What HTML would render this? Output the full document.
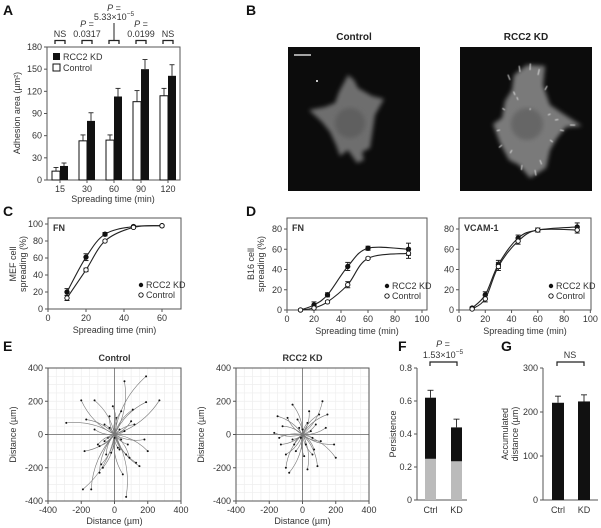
<!DOCTYPE html>
<html><head><meta charset="utf-8"><style>
body{margin:0;background:#fff}
svg{display:block;font-family:"Liberation Sans",sans-serif}
.t{font-size:9px;fill:#333}
.L{font-size:14px;font-weight:bold;fill:#111}
.ti{font-size:10px;font-weight:bold;fill:#222}
</style></head><body>
<svg id="fig" width="601" height="528" viewBox="0 0 601 528">
<defs><filter id="bl"><feGaussianBlur stdDeviation="2"/></filter><filter id="bl1"><feGaussianBlur stdDeviation="0.6"/></filter></defs>
<g id="g"></g>
<text class="L" x="3" y="15">A</text>
<text class="L" x="246" y="15">B</text>
<text class="L" x="3" y="216">C</text>
<text class="L" x="246" y="216">D</text>
<text class="L" x="3" y="351">E</text>
<text class="L" x="398" y="351">F</text>
<text class="L" x="501" y="351">G</text>
<g>
<rect x="288" y="47" width="132" height="144" fill="#0c0c0c"/>
<path d="M339 92 L348 75 L354 80 L358 88 L372 96 L384 99 L375 115 L372 135 L370 148 L362 152 L364 160 L357 163 L348 150 L340 156 L336 145 L330 132 L322 122 L309 110 L325 107 L335 103Z" fill="#6e6e6e" filter="url(#bl)"/>
<circle cx="350" cy="123" r="15" fill="#5e5e5e" filter="url(#bl)"/>
<line x1="294" y1="55" x2="311" y2="55" stroke="#fff" stroke-width="1.2"/>
<circle cx="317" cy="81" r="1" fill="#fff"/>
</g>
<text class="ti" x="354" y="40" text-anchor="middle">Control</text>
<g>
<rect x="460" y="47" width="132" height="144" fill="#0c0c0c"/>
<path d="M514 75 L527 65 L545 66 L543 85 L550 105 L565 115 L582 126 L566 127 L557 138 L550 150 L546 168 L530 178 L519 165 L509 160 L500 143 L493 124 L502 118 L505 101 L512 90Z" fill="#7a7a7a" filter="url(#bl)"/>
<circle cx="527" cy="124" r="16" fill="#666" filter="url(#bl)"/>
<g id="streaks" stroke="#ddd" stroke-width="1" filter="url(#bl1)"></g>
</g>
<text class="ti" x="526" y="40" text-anchor="middle">RCC2 KD</text>
</svg>
<script>
// ---------- DATA ----------
const aTimes=["15","30","60","90","120"];
const aCtrl=[12,53,54,106,114];
const aCtrlErr=[5,8,7,15,10];
const aKD=[19,80,113,150,141];
const aKDErr=[4,11,11,13,15];
const aTicks=[0,30,60,90,120,150,180];
const aPTop=["","P =","","P =",""];
const aPBot=["NS","0.0317","","0.0199","NS"];
const cTime=[10,20,30,45,60];
const cKD=[20,61,88,97,98];
const cKDErr=[4,4,2,1,1];
const cCtrl=[13,46,80,96,98];
const cCtrlErr=[3,2,1,1,1];
const dTime=[10,20,30,45,60,90];
const dFnKD=[0,5,15,43,61,60];
const dFnKDErr=[1,3,2,4,2,6];
const dFnCtrl=[0,2,8,25,51,56];
const dFnCtrlErr=[1,2,1,3,1,5];
const dVcKD=[2,15,45,71,79,82];
const dVcKDErr=[1,3,4,3,2,4];
const dVcCtrl=[1,11,43,68,79,79];
const dVcCtrlErr=[1,3,4,3,2,3];
const eCtrlX=[-290,-200,-120,-190,-140,190,270,190,60,70,150,200,180,-180,-170,-80,-90,-70,50,110,100,-30,-50,30,-60,40,80,-120,130,-20,20,-40,60,10,-100,90,-10,40,-60,120,30,-30,70,-90,0];
const eCtrlY=[70,205,205,-330,-330,350,205,195,320,-375,-190,-100,-30,-100,90,-180,-230,-200,-240,150,80,110,-120,-90,60,140,-60,30,-170,-110,-80,-20,20,100,-60,-140,170,-30,-40,60,30,40,-120,-70,-20];
const eKDX=[-150,-130,-100,200,190,150,120,-80,-60,30,40,-170,-120,90,60,-40,80,-60,-30,20,110,-100,140,-20,50,-90,10,70,-50,30,-10,100,-140,60,0];
const eKDY=[110,-60,-200,-140,-60,120,200,-230,180,-210,140,10,50,-190,-120,-100,60,-30,90,-60,-40,-120,40,40,20,100,-130,-90,-60,70,-20,120,-20,-20,30];
const fCats=["Ctrl","KD"];
const fTotal=[0.62,0.44];
const fErr=[0.045,0.05];
const fGray=[0.25,0.235];
const fTicks=[0,0.2,0.4,0.6,0.8];
const gVals=[221,224];
const gErr=[15,15];
const gTicks=[0,100,200,300];

// ---------- HELPERS ----------
const NS="http://www.w3.org/2000/svg";
const root=document.getElementById('g');
function mk(tag,attrs,parent){const e=document.createElementNS(NS,tag);for(const k in attrs)e.setAttribute(k,attrs[k]);(parent||root).appendChild(e);return e;}
function txt(x,y,s,anchor,extra,parent){const e=mk('text',Object.assign({x:x,y:y,'text-anchor':anchor||'middle','class':'t'},extra||{}),parent);e.textContent=s;return e;}
function lin(d0,d1,r0,r1){return v=>r0+(v-d0)/(d1-d0)*(r1-r0);}
function frame(x0,y0,x1,y1,name){const r=mk('rect',{x:x0,y:y0,width:x1-x0,height:y1-y0,fill:'none',stroke:'#555','stroke-width':1});}
function yTicks(ticks,ys,x0,fmt){ticks.forEach(t=>{const y=ys(t);mk('line',{x1:x0-3,y1:y,x2:x0,y2:y,stroke:'#555'});const l=txt(x0-5,y+3,fmt?fmt(t):String(t),'end');});}
function xTicks(ticks,xs,y0){ticks.forEach(t=>{const x=xs(t);mk('line',{x1:x,y1:y0,x2:x,y2:y0+3,stroke:'#555'});const l=txt(x,y0+12,String(t));});}
function err(x,y0,y1,w){mk('line',{x1:x,y1:y0,x2:x,y2:y1,stroke:'#222','stroke-width':0.9});mk('line',{x1:x-w,y1:y1,x2:x+w,y2:y1,stroke:'#222','stroke-width':0.9});}
function smooth(pts){let d=`M${pts[0][0]},${pts[0][1]}`;for(let i=0;i<pts.length-1;i++){const p0=pts[Math.max(0,i-1)],p1=pts[i],p2=pts[i+1],p3=pts[Math.min(pts.length-1,i+2)];const c1=[p1[0]+(p2[0]-p0[0])/6,p1[1]+(p2[1]-p0[1])/6],c2=[p2[0]-(p3[0]-p1[0])/6,p2[1]-(p3[1]-p1[1])/6];d+=` C${c1[0]},${c1[1]} ${c2[0]},${c2[1]} ${p2[0]},${p2[1]}`;}return d;}
function yLabel(x,y,lines,name){const g=mk('g',{transform:`translate(${x},${y}) rotate(-90)`});lines.forEach((s,i)=>{txt(0,i*10,s,'middle',{},g);});}
function xLabel(x,y,s,name){const t=txt(x,y,s);}

// ---------- PANEL A ----------
(function(){
const x0=47,x1=180,y0=47,y1=180;const ys=lin(0,180,y1,y0);
frame(x0,y0,x1,y1,'panel-a-plot-frame');
yTicks(aTicks,ys,x0);
aTimes.forEach((t,i)=>{const cx=60+i*27;
 let y=ys(aCtrl[i]);const b1=mk('rect',{x:cx-8,y:y,width:8,height:y1-y,fill:'#fff',stroke:'#111','stroke-width':1});
 
 err(cx-4,y,ys(aCtrl[i]+aCtrlErr[i]),2.5);
 y=ys(aKD[i]);const b2=mk('rect',{x:cx,y:y,width:8,height:y1-y,fill:'#111'});
 
 err(cx+4,y,ys(aKD[i]+aKDErr[i]),2.5);
 mk('line',{x1:cx,y1:y1,x2:cx,y2:y1+3,stroke:'#555'});
 const l=txt(cx,y1+12,t);
 mk('path',{d:`M${cx-5},${44} V40.5 H${cx+5} V44`,fill:'none',stroke:'#222','stroke-width':1.3});
 if(aPBot[i]){const p=txt(cx,37,aPBot[i]);}
 if(aPTop[i]){const p=txt(cx,27,'');p.innerHTML='<tspan font-style="italic">P</tspan> =';}
});
const cx=60+2*27;mk('line',{x1:cx,y1:40,x2:cx,y2:23,stroke:'#222'});
let p=txt(cx,11,'');p.innerHTML='<tspan font-style="italic">P</tspan> =';
p=txt(cx,20,'');p.innerHTML='5.33×10<tspan dy="-4" font-size="6.5">−5</tspan>';
mk('rect',{x:53,y:53,width:7,height:7,fill:'#111'});txt(63,60,'RCC2 KD','start');
mk('rect',{x:53,y:64,width:7,height:7,fill:'#fff',stroke:'#111'});txt(63,71,'Control','start');
yLabel(20,113,['Adhesion area (µm²)'],'y-axis-title-a');
xLabel(113,202,'Spreading time (min)','x-axis-title-a');
})();

// ---------- LINE PANELS ----------
function linePanel(o){
 const xs=lin(0,o.xmax,o.x0,o.x1),ys=lin(0,o.ymaxAxis,o.y1,o.ytop);
 frame(o.x0,o.y0,o.x1,o.y1,o.name+'-plot-frame');
 yTicks(o.yt,ys,o.x0);xTicks(o.xt,xs,o.y1);
 [[o.kd,o.kdE,'#111','rcc2kd'],[o.ct,o.ctE,'#fff','control']].forEach(([v,e,f,n])=>{
  const pts=o.t.map((t,i)=>[xs(t),ys(v[i])]);
  const c=mk('path',{d:smooth(pts),fill:'none',stroke:'#222','stroke-width':1.1});
  o.t.forEach((t,i)=>{const x=xs(t);mk('line',{x1:x,y1:ys(v[i]-e[i]),x2:x,y2:ys(v[i]+e[i]),stroke:'#222'});
   mk('line',{x1:x-2.5,y1:ys(v[i]-e[i]),x2:x+2.5,y2:ys(v[i]-e[i]),stroke:'#222'});mk('line',{x1:x-2.5,y1:ys(v[i]+e[i]),x2:x+2.5,y2:ys(v[i]+e[i]),stroke:'#222'});
   const p=mk('circle',{cx:x,cy:ys(v[i]),r:2.2,fill:f,stroke:'#111','stroke-width':0.9});});
 });
 const lx=o.x1-40,ly=o.y1-24;
 mk('circle',{cx:lx,cy:ly,r:2.2,fill:'#111'});txt(lx+5,ly+3,'RCC2 KD','start');
 mk('circle',{cx:lx,cy:ly+10,r:2.2,fill:'#fff',stroke:'#111','stroke-width':0.9});txt(lx+5,ly+13,'Control','start');
 const tl=txt(o.x0+5,o.y0+13,o.title,'start',{'font-weight':'bold','font-size':'10'});
 xLabel((o.x0+o.x1)/2,o.y1+24,'Spreading time (min)','x-axis-title-'+o.name);
}
linePanel({name:'c',x0:48,x1:181,y0:218,y1:309,xmax:70,ytop:224,ymaxAxis:100,yt:[0,20,40,60,80,100],xt:[0,20,40,60],t:cTime,kd:cKD,kdE:cKDErr,ct:cCtrl,ctE:cCtrlErr,title:'FN'});
yLabel(16,264,['MEF cell','spreading (%)'],'y-axis-title-c');
linePanel({name:'d-fn',x0:287,x1:427,y0:218,y1:310,xmax:103.7,ytop:229,ymaxAxis:80,yt:[0,20,40,60,80],xt:[0,20,40,60,80,100],t:dTime,kd:dFnKD,kdE:dFnKDErr,ct:dFnCtrl,ctE:dFnCtrlErr,title:'FN'});
yLabel(254,264,['B16 cell','spreading (%)'],'y-axis-title-d');
linePanel({name:'d-vcam',x0:459,x1:591,y0:218,y1:310,xmax:100.5,ytop:229,ymaxAxis:80,yt:[0,20,40,60,80],xt:[0,20,40,60,80,100],t:dTime,kd:dVcKD,kdE:dVcKDErr,ct:dVcCtrl,ctE:dVcCtrlErr,title:'VCAM-1'});

// ---------- PANEL E ----------
function track(o){
 const xs=lin(-400,400,o.x0,o.x1),ys=lin(-400,400,o.y1,o.y0);
 for(let v=-400;v<=400;v+=50){mk('line',{x1:xs(v),y1:o.y0,x2:xs(v),y2:o.y1,stroke:'#eee','stroke-width':0.7});mk('line',{x1:o.x0,y1:ys(v),x2:o.x1,y2:ys(v),stroke:'#eee','stroke-width':0.7});}
 mk('line',{x1:xs(0),y1:o.y0,x2:xs(0),y2:o.y1,stroke:'#888'});mk('line',{x1:o.x0,y1:ys(0),x2:o.x1,y2:ys(0),stroke:'#888'});
 o.ex.forEach((ex,i)=>{const ey=o.ey[i];const mx=ex/2,my=ey/2,s=(i%2?1:-1)*0.18;
  const cxv=mx-ey*s,cyv=my+ex*s;
  const p=mk('path',{d:`M${xs(0)},${ys(0)} Q${xs(cxv)},${ys(cyv)} ${xs(ex)},${ys(ey)}`,fill:'none',stroke:'#777','stroke-width':0.6});
  
  mk('circle',{cx:xs(ex),cy:ys(ey),r:1,fill:'#111'});});
 frame(o.x0,o.y0,o.x1,o.y1,o.name+'-plot-frame');
 yTicks([-400,-200,0,200,400],ys,o.x0);xTicks([-400,-200,0,200,400],xs,o.y1);
 const t=txt((o.x0+o.x1)/2,o.y0-7,o.title,'middle',{'font-weight':'bold','font-size':'10'});
 xLabel((o.x0+o.x1)/2,o.y1+23,'Distance (µm)','x-axis-title-'+o.name);
 yLabel(o.x0-32,(o.y0+o.y1)/2,['Distance (µm)'],'y-axis-title-'+o.name);
}
track({name:'e-control',x0:48,x1:181,y0:368,y1:501,ex:eCtrlX,ey:eCtrlY,title:'Control'});
track({name:'e-rcc2kd',x0:236,x1:369,y0:368,y1:501,ex:eKDX,ey:eKDY,title:'RCC2 KD'});

// ---------- PANEL F ----------
(function(){
 const x0=417,x1=467,y0=368,y1=500,ys=lin(0,0.8,y1,y0);
 mk('line',{x1:x0,y1:y0,x2:x0,y2:y1,stroke:'#555'});mk('line',{x1:x0,y1:y1,x2:x1,y2:y1,stroke:'#555'});
 yTicks(fTicks,ys,x0,v=>v===0?'0':String(v));
 fCats.forEach((c,i)=>{const bx=425+i*26;
  const b=mk('rect',{x:bx,y:ys(fTotal[i]),width:11,height:y1-ys(fTotal[i]),fill:'#111'});
  const g=mk('rect',{x:bx,y:ys(fGray[i]),width:11,height:y1-ys(fGray[i]),fill:'#bbb'});
  err(bx+5.5,ys(fTotal[i]),ys(fTotal[i]+fErr[i]),3);
  const l=txt(bx+5.5,y1+13,c);});
 mk('path',{d:'M430,366 V362 H457 V366',fill:'none',stroke:'#222','stroke-width':1.2});
 let p=txt(443,347,'');p.innerHTML='<tspan font-style="italic">P</tspan> =';
 p=txt(443,358,'');p.innerHTML='1.53×10<tspan dy="-4" font-size="6.5">−5</tspan>';
 yLabel(396,434,['Persistence'],'y-axis-title-f');
})();

// ---------- PANEL G ----------
(function(){
 const x0=543,x1=598,y0=368,y1=500,ys=lin(0,300,y1,y0);
 mk('line',{x1:x0,y1:y0,x2:x0,y2:y1,stroke:'#555'});mk('line',{x1:x0,y1:y1,x2:x1,y2:y1,stroke:'#555'});
 yTicks(gTicks,ys,x0);
 fCats.forEach((c,i)=>{const bx=552+i*26;
  const b=mk('rect',{x:bx,y:ys(gVals[i]),width:12,height:y1-ys(gVals[i]),fill:'#111'});
  err(bx+6,ys(gVals[i]),ys(gVals[i]+gErr[i]),3);
  const l=txt(bx+6,y1+13,c);});
 mk('path',{d:'M557,366 V362 H584 V366',fill:'none',stroke:'#222','stroke-width':1.2});
 const p=txt(570,358,'NS');
 yLabel(508,434,['Accumulated','distance (µm)'],'y-axis-title-g');
})();

// ---------- streaks in KD image ----------
(function(){const s=document.getElementById('streaks');
 const sx=[510,515,520,530,538,545,505,500,548,555,560,570,512,522,535,540,502,550,530,518];
 const sy=[80,95,72,70,75,90,110,130,115,120,130,125,150,165,170,160,145,140,110,100];
 sx.forEach((x,i)=>{const y=sy[i];const dx=(x-527)*0.12,dy=(y-124)*0.12;mk('line',{x1:x,y1:y,x2:x+dx,y2:y+dy},s);});
})();
</script>
</body></html>
